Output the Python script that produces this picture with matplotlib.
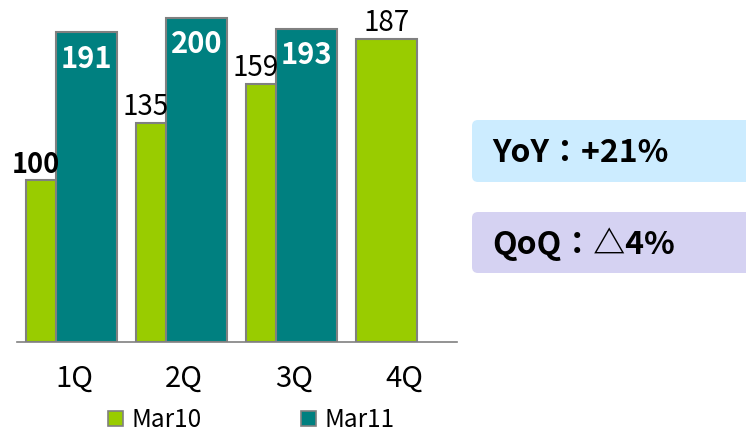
import matplotlib
matplotlib.use('Agg')
import matplotlib.pyplot as plt
from matplotlib.patches import FancyBboxPatch, Patch
import numpy as np

plt.rcParams['font.family'] = ['Noto Sans CJK JP', 'DejaVu Sans']

# данные
quarters = ['1Q', '2Q', '3Q', '4Q']
mar10 = [100, 135, 159, 187]
mar11 = [191, 200, 193]
series_names = ['Mar10', 'Mar11']
yoy_text = 'YoY：+21%'
qoq_text = 'QoQ：△4%'

GREEN = '#99CC00'
TEAL = '#008080'
EDGE = '#808080'

W, H = 746, 434
fig = plt.figure(figsize=(W / 100, H / 100), dpi=100)

# фон с плашками (пиксельные координаты)
bg = fig.add_axes([0, 0, 1, 1])
bg.set_xlim(0, W)
bg.set_ylim(H, 0)
bg.axis('off')
bg.add_patch(FancyBboxPatch((472, 120), 300, 62, boxstyle='round,pad=0,rounding_size=6',
                            fc='#CCECFF', ec='none'))
bg.add_patch(FancyBboxPatch((472, 212), 300, 61, boxstyle='round,pad=0,rounding_size=6',
                            fc='#D5D2F2', ec='none'))
bg.text(492, 153, yoy_text, fontsize=23, fontweight='bold', va='center', ha='left')
bg.text(492, 244, qoq_text, fontsize=23, fontweight='bold', va='center', ha='left')

# график
ax = fig.add_axes([17 / W, (H - 342) / H, 440 / W, 342 / H])
ax.patch.set_alpha(0)
x = np.arange(len(quarters))
ax.bar(x - 0.159, mar10, width=0.555, color=GREEN, edgecolor=EDGE, linewidth=1.5, zorder=2)
xt = x[:len(mar11)]
ax.bar(xt + 0.115, mar11, width=0.56, color=TEAL, edgecolor=EDGE, linewidth=1.5, zorder=3)

ax.set_xlim(-0.518, 3.482)
ax.set_ylim(0, 211)
for s in ['top', 'right', 'left']:
    ax.spines[s].set_visible(False)
ax.spines['bottom'].set_color('#808080')
ax.spines['bottom'].set_linewidth(1.2)
ax.set_yticks([])
ax.set_xticks(x)
ax.set_xticklabels(quarters, fontsize=21)
ax.tick_params(axis='x', length=0, pad=16)

# подписи Mar10
for i, v in enumerate(mar10):
    xi = x[i] - 0.159
    if i < len(mar11):
        xi -= 0.19
    ax.annotate(str(v), (xi, v), xytext=(0, 1), textcoords='offset points',
                ha='center', va='bottom', fontsize=20 if i else 19.5,
                fontweight='bold' if i == 0 else 'normal', zorder=5)

# подписи Mar11
for i, v in enumerate(mar11):
    ax.annotate(str(v), (xt[i] + 0.115, v), xytext=(0, -8), textcoords='offset points',
                ha='center', va='top', fontsize=21, fontweight='bold', color='white', zorder=5)

handles = [Patch(fc=GREEN, ec=EDGE, lw=1.2), Patch(fc=TEAL, ec=EDGE, lw=1.2)]
fig.legend(handles, series_names, loc='center left', bbox_to_anchor=(108 / W, 1 - 420 / H),
           ncol=2, frameon=False, fontsize=17.5, handlelength=0.6, handleheight=0.6,
           handletextpad=0.35, columnspacing=4.1, borderpad=0, borderaxespad=0)

fig.savefig('out.png', dpi=100)
